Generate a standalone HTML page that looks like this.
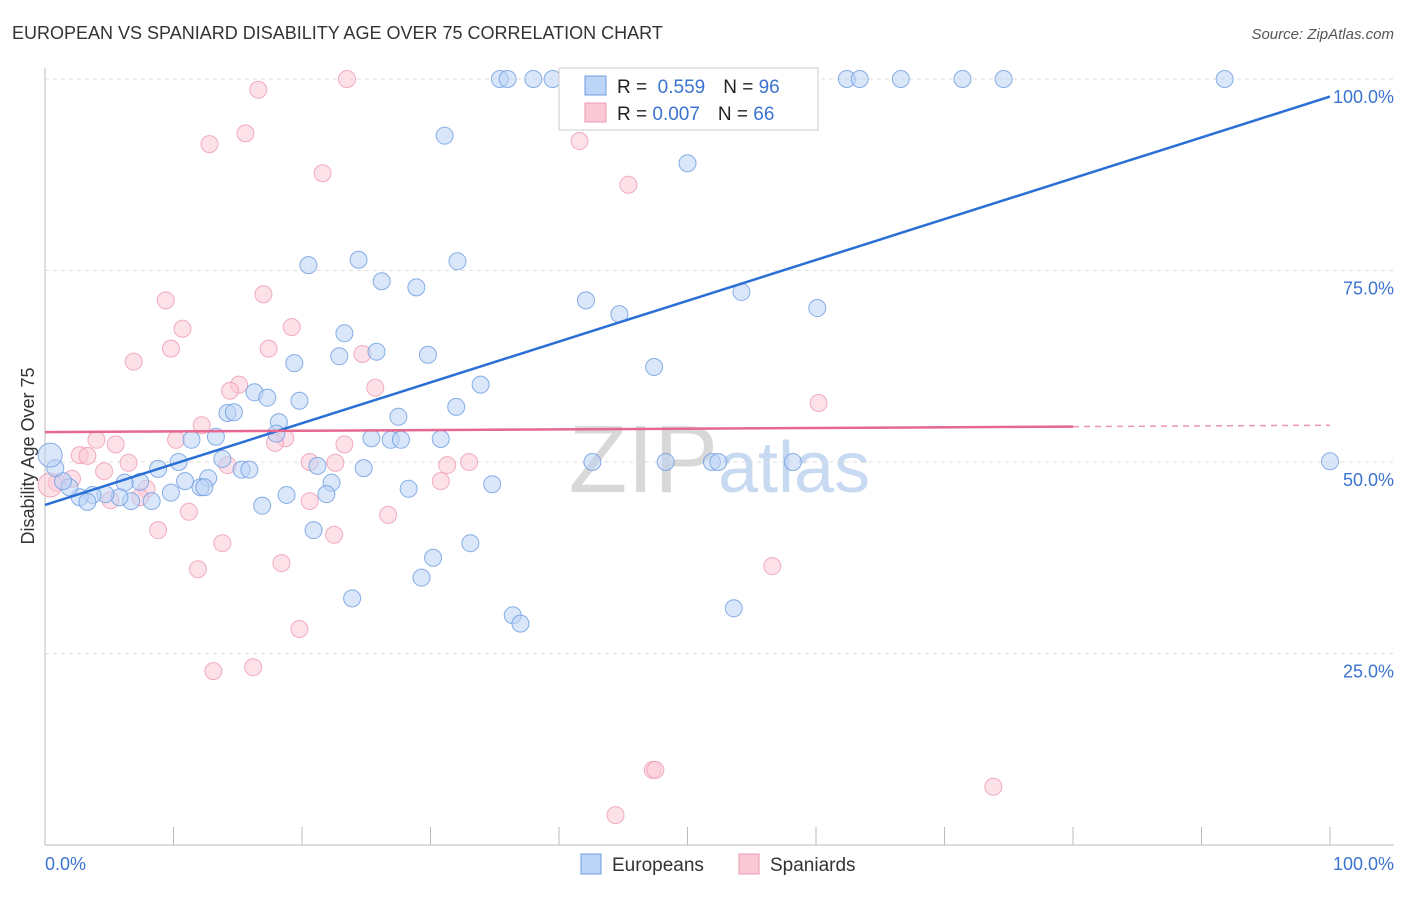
<!DOCTYPE html>
<html><head><meta charset="utf-8"><style>
body{margin:0;background:#fff;font-family:"Liberation Sans",sans-serif}
svg text{font-family:"Liberation Sans",sans-serif}
</style></head><body>
<svg id="chart" width="1406" height="892">
<text x="12" y="39" font-size="18" fill="#333">EUROPEAN VS SPANIARD DISABILITY AGE OVER 75 CORRELATION CHART</text>
<text x="1394" y="39" font-size="15" fill="#555" font-style="italic" text-anchor="end">Source: ZipAtlas.com</text>
<text x="718" y="492" font-size="96" fill="#d8d8d8" font-family="Liberation Serif" text-anchor="end">ZIP</text>
<text x="718" y="492" font-size="72" fill="#c8daf2">atlas</text>
<g id="grid"></g><g id="pts"></g><g id="lines"></g>
<text transform="translate(34,456) rotate(-90)" font-size="18" fill="#333" text-anchor="middle">Disability Age Over 75</text>
<text x="45" y="870" font-size="18" fill="#3b73d1">0.0%</text>
<text x="1394" y="870" font-size="18" fill="#3b73d1" text-anchor="end">100.0%</text>
<g>
<rect x="559" y="68" width="259" height="62" fill="#fff" stroke="#ccc"/>
<rect x="585" y="76" width="21" height="19" fill="#bcd4f6" stroke="#6c9be0"/>
<rect x="585" y="103" width="21" height="19" fill="#fbc8d6" stroke="#ee9ab2"/>
<text x="617" y="93" font-size="19" fill="#222">R = <tspan fill="#3b73d1">&#160;0.559</tspan><tspan dx="18">N = </tspan><tspan fill="#3b73d1">96</tspan></text>
<text x="617" y="120" font-size="19" fill="#222">R = <tspan fill="#3b73d1">0.007</tspan><tspan dx="18">N = </tspan><tspan fill="#3b73d1">66</tspan></text>
</g>
<g>
<rect x="581" y="854" width="20" height="20" fill="#bcd4f6" stroke="#6c9be0"/>
<text x="612" y="871" font-size="19" fill="#333">Europeans</text>
<rect x="739" y="854" width="20" height="20" fill="#fbc8d6" stroke="#ee9ab2"/>
<text x="770" y="871" font-size="19" fill="#333">Spaniards</text>
</g>
</svg>
<script>
const yTicks=[25,50,75,100];
const yTickLabels=["25.0%","50.0%","75.0%","100.0%"];
const xTicks=[0,10,20,30,40,50,60,70,80,90,100];
const euroX=[35.4,36.0,38.0,39.5,62.4,63.4,66.6,71.4,74.6,91.8,53.4,31.1,50.0,20.5,24.4,32.1,26.2,28.9,42.1,44.7,54.2,60.1,23.3,22.9,25.8,29.8,19.4,47.4,33.9,16.3,17.3,19.8,32.0,14.2,14.7,18.2,27.5,18.0,11.4,13.3,25.4,26.9,27.7,30.8,10.4,13.8,8.8,15.3,15.9,21.2,24.8,42.6,48.3,51.9,52.4,58.2,100,12.7,10.9,12.1,12.4,22.3,34.8,28.3,21.9,18.8,9.8,7.4,6.2,8.3,6.7,5.8,4.7,3.7,2.7,3.3,1.9,1.4,0.8,0.4,16.9,20.9,33.1,30.2,29.3,23.9,36.4,37.0,53.6];
const euroY=[100,100,100,100,100,100,100,100,100,100,100,92.6,89.0,75.7,76.4,76.2,73.6,72.8,71.1,69.3,72.2,70.1,66.8,63.8,64.4,64.0,62.9,62.4,60.1,59.1,58.4,58.0,57.2,56.4,56.5,55.2,55.9,53.7,52.9,53.3,53.1,52.9,52.9,53.0,50.0,50.4,49.1,49.0,49.0,49.5,49.2,50,50,50,50,50,50.1,47.9,47.5,46.7,46.7,47.3,47.1,46.5,45.8,45.7,46.0,47.4,47.3,44.9,44.9,45.4,45.8,45.7,45.4,44.8,46.7,47.5,49.2,50.9,44.3,41.1,39.4,37.5,34.9,32.2,30.0,28.9,30.9];
const spanX=[23.5,16.6,15.6,12.8,21.6,41.6,45.4,49.3,51.0,9.4,17.0,10.7,19.2,9.8,17.4,6.9,24.7,15.1,14.4,25.7,60.2,12.2,10.2,4.0,5.5,18.7,17.9,23.3,2.7,3.3,6.5,4.6,14.2,20.6,22.6,31.3,33.0,30.8,2.1,0.9,7.9,5.1,7.4,20.6,11.2,26.7,8.8,22.5,13.8,18.4,11.9,56.6,19.8,13.1,16.2,47.3,47.5,44.4,73.8,0.4];
const spanY=[100,98.6,92.9,91.5,87.7,91.9,86.2,100,100,71.1,71.9,67.4,67.6,64.8,64.8,63.1,64.1,60.1,59.3,59.7,57.7,54.8,52.9,52.9,52.3,53.1,52.5,52.3,50.9,50.8,49.9,48.8,49.6,50,49.9,49.6,50,47.5,47.8,47.3,46.5,45.0,45.4,44.9,43.5,43.1,41.1,40.5,39.4,36.8,36.0,36.4,28.2,22.7,23.2,9.8,9.8,3.9,7.6,47.0];
const euroTrend=[44.4,97.7];
const spanTrend=[53.9,54.8];
const NS="http://www.w3.org/2000/svg";
const X=v=>45+v*12.85, Y=v=>845-v*7.66;
function mk(t,a,p){const e=document.createElementNS(NS,t);for(const k in a)e.setAttribute(k,a[k]);p.appendChild(e);return e;}
const grid=document.getElementById('grid'),pts=document.getElementById('pts'),lines=document.getElementById('lines');
let ax=mk('line',{x1:45,y1:68,x2:45,y2:845,stroke:'#bbb'},grid);


let bx=mk('line',{x1:45,y1:845,x2:1394,y2:845,stroke:'#bbb'},grid);


yTicks.forEach((t,i)=>{
 let g=mk('line',{x1:45,y1:Y(t),x2:1394,y2:Y(t),stroke:'#ddd','stroke-dasharray':'4,4'},grid);
 
 
 let l=mk('text',{x:1394,y:Y(t)+24,'font-size':18,fill:'#3b73d1','text-anchor':'end'},grid);l.textContent=yTickLabels[i];
 
 
});
xTicks.forEach(t=>{
 let g=mk('line',{x1:X(t),y1:827,x2:X(t),y2:845,stroke:'#bbb'},grid);
 
 
});
function dots(xs,ys,fill,stroke,name){xs.forEach((x,i)=>{
 let c=mk('circle',{cx:X(x),cy:Y(ys[i]),r:(name==='european-point'&&i===79)||(name==='spaniard-point'&&i===59)?12:8.5,fill:fill,'fill-opacity':0.55,stroke:stroke,'stroke-opacity':0.8},pts);
 
 
});}
dots(spanX,spanY,'#fbc8d6','#ee9ab2','spaniard-point');
dots(euroX,euroY,'#bcd4f6','#6c9be0','european-point');
let b=mk('line',{x1:X(0),y1:Y(euroTrend[0]),x2:X(100),y2:Y(euroTrend[1]),stroke:'#2a6fd6','stroke-width':2.5},lines);


const sAt=v=>spanTrend[0]+(spanTrend[1]-spanTrend[0])*v/100;
let p=mk('line',{x1:X(0),y1:Y(sAt(0)),x2:X(80),y2:Y(sAt(80)),stroke:'#e6678f','stroke-width':2.5},lines);


let pd=mk('line',{x1:X(80),y1:Y(sAt(80)),x2:X(100),y2:Y(sAt(100)),stroke:'#e6678f','stroke-width':1.5,'stroke-dasharray':'6,5','stroke-opacity':0.7},lines);


</script>
</body></html>
